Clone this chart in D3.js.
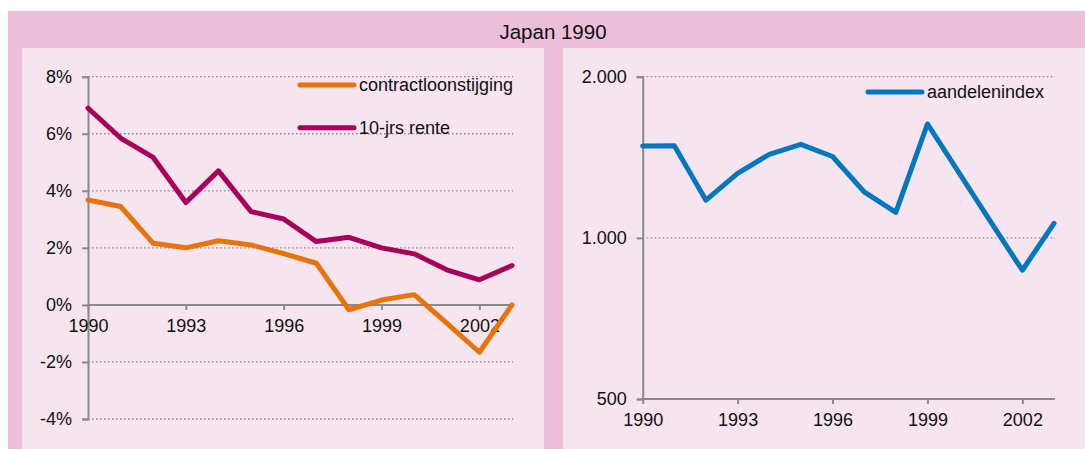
<!DOCTYPE html>
<html>
<head>
<meta charset="utf-8">
<script src="https://cdn.jsdelivr.net/npm/d3@7"></script>
<style>
body { margin: 0; background: #fff; }
svg text { font-family: "Liberation Sans", Arial, sans-serif; fill: #111; }
</style>
</head>
<body>
<div id="chart"></div>
<script>
var w = 1085;
var h = 449;

// data
var years = [1990,1991,1992,1993,1994,1995,1996,1997,1998,1999,2000,2001,2002,2003];
var loon = [3.68,3.45,2.16,2.0,2.25,2.1,1.8,1.46,-0.17,0.17,0.36,-0.64,-1.66,0.0];
var rente = [6.9,5.85,5.17,3.59,4.7,3.27,3.01,2.22,2.37,2.0,1.79,1.23,0.88,1.38];
var aandelen = [1484,1486,1176,1320,1432,1495,1419,1219,1116,1632,1322,1071,870,1064];

var leftTicks = [-4,-2,0,2,4,6,8];
var rightTicks = [500,1000,2000];
var yearTicks = [1990,1993,1996,1999,2002];

var outerPink = "#ebbfd8";
var innerPink = "#f6e4ef";
var gridCol = "#8a8a8a";
var axisCol = "#8a8a8a";

var svg = d3.select("#chart").append("svg").attr("width",w).attr("height",h);

svg.append("rect").attr("x",8).attr("y",11).attr("width",w-8).attr("height",h-11).style("fill",outerPink);
svg.append("rect").attr("x",22).attr("y",48).attr("width",522).attr("height",h-48).style("fill",innerPink);
svg.append("rect").attr("x",563).attr("y",48).attr("width",w-563).attr("height",h-48).style("fill",innerPink);

svg.append("text").text("Japan 1990")
    .attr("x",553).attr("y",39)
    .attr("text-anchor","middle")
    .attr("font-size","20.5px");

function drawPanel(opts){
    var g = svg.append("g");
    var x = opts.x, y = opts.y;

    // dotted gridlines
    g.selectAll("line.grid").data(opts.yTicks.filter(function(d){ return d !== opts.base; }))
    .enter().append("line")
    .attr("x1",x.range()[0]).attr("x2",x.range()[1]+1)
    .attr("y1",function(d){ return y(d); })
    .attr("y2",function(d){ return y(d); })
    .style("stroke",gridCol).style("stroke-width",1.3)
    .style("stroke-dasharray","1.6,2.4");

    // y axis
    var yAxis = d3.axisLeft(y).tickValues(opts.yTicks).tickFormat(opts.fmt).tickSize(6).tickPadding(10);
    var ya = g.append("g").attr("transform","translate(" + x.range()[0] + ",0)").call(yAxis);
    ya.selectAll("text").attr("font-size","18px").attr("font-family","Liberation Sans, Arial, sans-serif").style("fill","#111");

    // x axis at base value
    var xAxis = d3.axisBottom(x).tickValues(yearTicks).tickFormat(d3.format("d")).tickSize(5).tickPadding(9);
    var xa = g.append("g").attr("transform","translate(0," + y(opts.base) + ")").call(xAxis);
    xa.selectAll("text").attr("font-size","18px").attr("font-family","Liberation Sans, Arial, sans-serif").style("fill","#111");
    xa.select(".domain").attr("d","M" + x.range()[0] + ",0H" + (x.range()[1]+1));

    g.selectAll(".domain").style("stroke",axisCol).style("stroke-width",2);
    g.selectAll(".tick line").style("stroke",axisCol).style("stroke-width",2);

    // lines
    opts.series.forEach(function(s){
        var line = d3.line()
            .x(function(d,i){ return x(years[i]); })
            .y(function(d){ return y(d); });
        g.append("path").datum(s.values).attr("d",line)
            .style("fill","none").style("stroke",s.color)
            .style("stroke-width",5).style("stroke-linejoin","round").style("stroke-linecap","round");
    });

    // legend
    opts.series.forEach(function(s,i){
        var ly = opts.legendY + i*opts.legendStep;
        g.append("line").attr("x1",opts.legendX).attr("x2",opts.legendX+54)
            .attr("y1",ly).attr("y2",ly)
            .style("stroke",s.color).style("stroke-width",5).style("stroke-linecap","round");
        g.append("text").text(s.name).attr("x",opts.legendX+59).attr("y",ly+6)
            .attr("font-size","18px");
    });
}

var x1 = d3.scaleLinear().domain([1990,2003]).range([88,512]);
var y1 = d3.scaleLinear().domain([-4,8]).range([419,76.7]);
drawPanel({
    x: x1, y: y1, yTicks: leftTicks, base: 0,
    fmt: function(d){ return d + "%"; },
    series: [
        {name:"contractloonstijging", values: loon, color:"#e8730a"},
        {name:"10-jrs rente", values: rente, color:"#a8005a"}
    ],
    legendX: 300, legendY: 85, legendStep: 42.7
});

var x2 = d3.scaleLinear().domain([1990,2003]).range([642.7,1054]);
var y2 = d3.scaleLog().domain([500,2000]).range([399,76.7]);
drawPanel({
    x: x2, y: y2, yTicks: rightTicks, base: 500,
    fmt: function(d){ return d === 500 ? "500" : d3.format(",")(d).replace(",","."); },
    series: [
        {name:"aandelenindex", values: aandelen, color:"#0077c0"}
    ],
    legendX: 868, legendY: 92, legendStep: 0
});
</script>
</body>
</html>
